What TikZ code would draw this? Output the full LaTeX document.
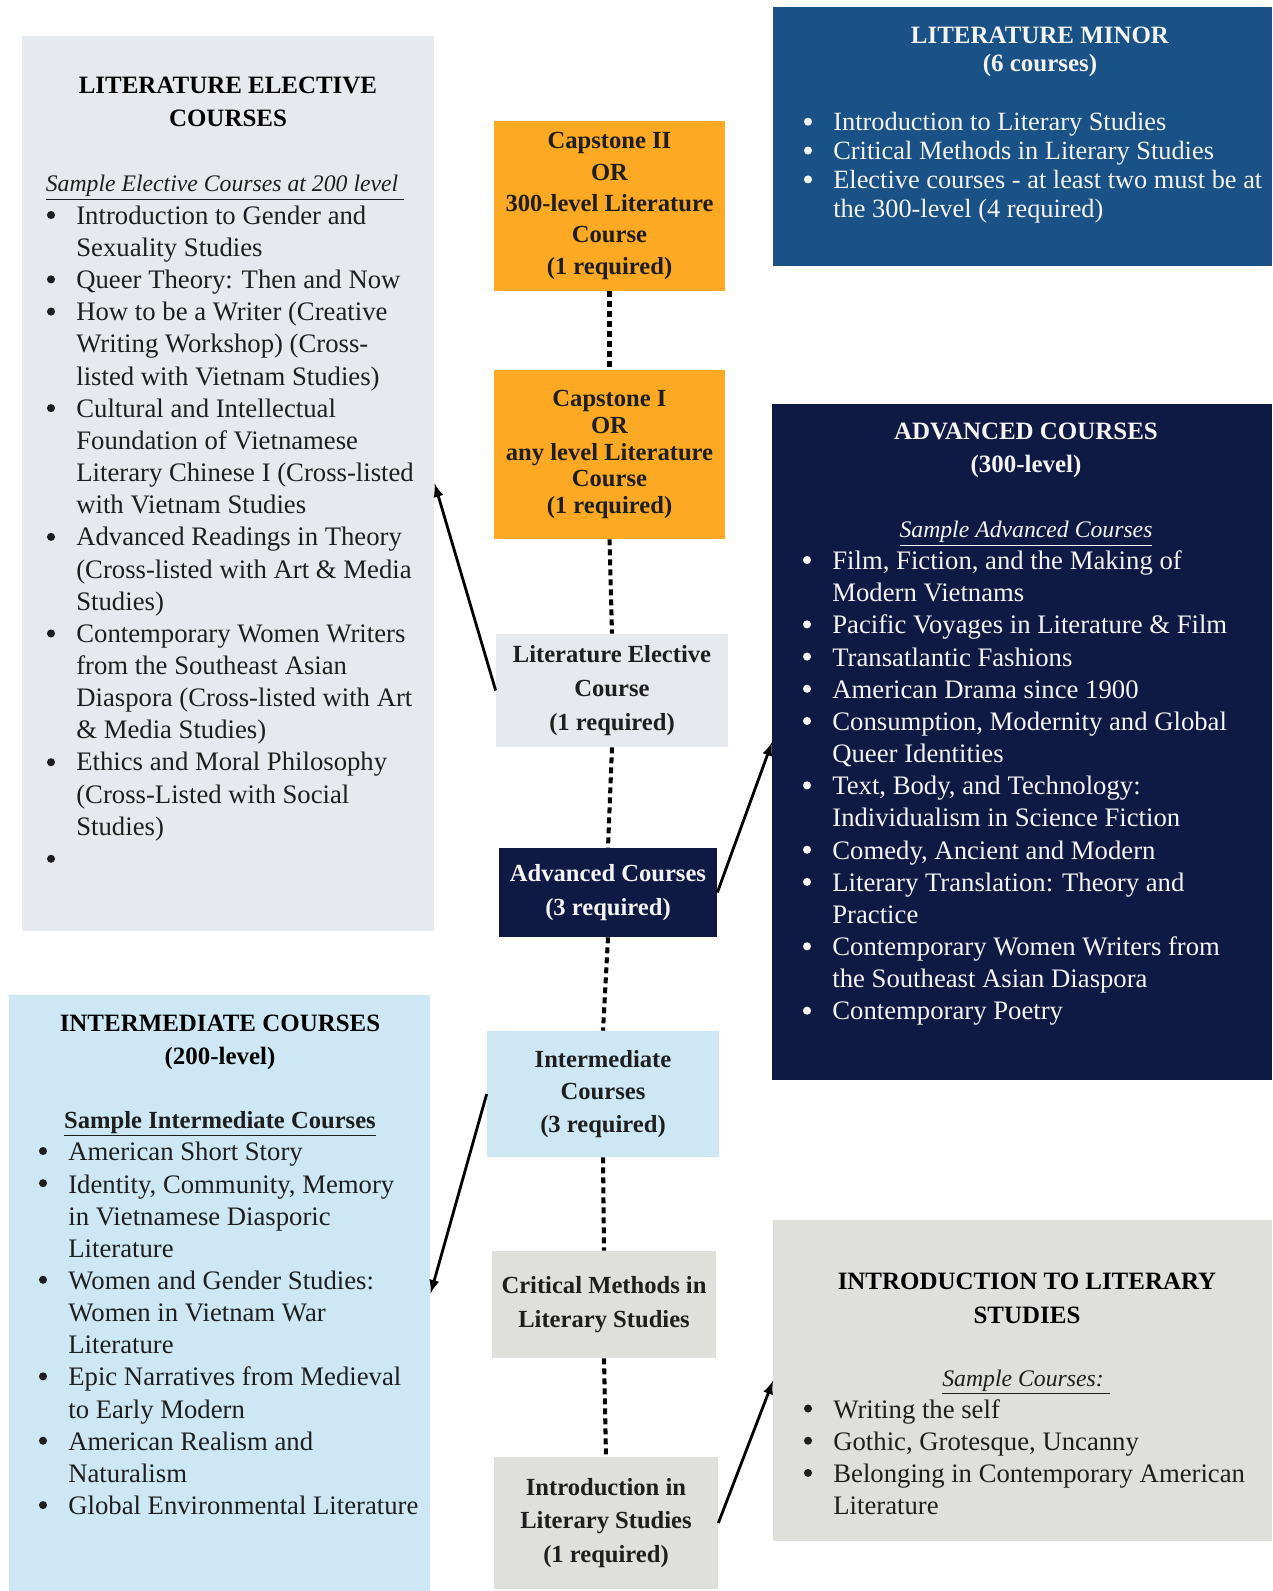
\documentclass[tikz,border=0pt]{standalone}
\usepackage{fontspec}
\setmainfont{Liberation Serif}
\usetikzlibrary{positioning}

\definecolor{elecgrey}{HTML}{E6EAEE}
\definecolor{minorblue}{HTML}{1A5186}
\definecolor{caporange}{HTML}{FDA923}
\definecolor{advnavy}{HTML}{0E1A44}
\definecolor{interblue}{HTML}{CDE8F4}
\definecolor{introgrey}{HTML}{DFE0DC}
\definecolor{ink}{HTML}{1E1E1E}
\definecolor{paper}{HTML}{F4F4F4}

\tikzset{
  panel/.style={inner sep=0pt, anchor=north west},
  stage/.style={inner sep=0pt, align=center, text=ink, font=\bfseries\fontsize{14}{#1}\selectfont},
  stage/.default=19.3pt,
  heading/.style={inner sep=0pt, anchor=north, align=center, font=\bfseries\fontsize{14.2}{#1}\selectfont},
  heading/.default=18.7pt,
  sample/.style={inner sep=0pt, anchor=base, font=\itshape\fontsize{13.5}{16}\selectfont},
  courses/.style={inner sep=0pt, anchor=north west, align=left, font=\fontsize{15.2}{#1}\selectfont},
  courses/.default=18.3pt,
  dots/.style={line width=2.3pt, dash pattern=on 3.4pt off 2.3pt},
  arr/.style={-latex, line width=1.6pt}
}

\begin{document}
\begin{tikzpicture}[x=0.02cm, y=-0.02cm]
\fill[white] (0,0) rectangle (1272,1591);
\useasboundingbox (0,0) rectangle (1272,1591);

% big panels
\node[panel, fill=elecgrey, minimum width=8.24cm, minimum height=17.91cm] (elecbox) at (22,35.5) {};
\node[panel, fill=minorblue, minimum width=9.98cm, minimum height=5.18cm] (minorbox) at (773,7) {};
\node[panel, fill=advnavy, minimum width=10cm, minimum height=13.52cm] (advbox) at (772,404) {};
\node[panel, fill=interblue, minimum width=8.42cm, minimum height=11.92cm] (interbox) at (9,995) {};
\node[panel, fill=introgrey, minimum width=9.98cm, minimum height=6.42cm] (introbox) at (773,1220) {};

% the steps in the middle
\node[stage=17.9pt, fill=caporange, minimum width=4.62cm, minimum height=3.4cm] (cap2) at (609.5,206)
  {Capstone II\\OR\\300-level Literature\\Course\\(1 required)};
\node[stage=15.1pt, fill=caporange, minimum width=4.62cm, minimum height=3.38cm] (cap1) at (609.5,454.5)
  {Capstone I\\OR\\any level Literature\\Course\\(1 required)};
\node[stage, fill=elecgrey, minimum width=4.64cm, minimum height=2.26cm] (elec) at (612,690.5)
  {Literature Elective\\Course\\(1 required)};
\node[stage=19.6pt, fill=advnavy, text=paper, minimum width=4.36cm, minimum height=1.78cm] (adv) at (608,892.5)
  {Advanced Courses\\(3 required)};
\node[stage=18.4pt, fill=interblue, minimum width=4.64cm, minimum height=2.52cm] (inter) at (603,1094)
  {Intermediate\\Courses\\(3 required)};
\node[stage, fill=introgrey, minimum width=4.48cm, minimum height=2.14cm] (crit) at (604,1304.5)
  {Critical Methods in\\Literary Studies};
\node[stage, fill=introgrey, minimum width=4.48cm, minimum height=2.64cm] (intro) at (606,1523)
  {Introduction in\\Literary Studies\\(1 required)};

% dotted path
\draw[dots] (cap2.south) -- (cap1.north);
\draw[dots] (cap1.south) -- (elec.north);
\draw[dots] (elec.south) -- (adv.north);
\draw[dots] (adv.south) -- (inter.north);
\draw[dots] (inter.south) -- (crit.north);
\draw[dots] (crit.south) -- (intro.north);

% arrows to the panels
\draw[arr] (elec.west) -- (elecbox.east);
\draw[arr] (adv.east) -- (advbox.west);
\draw[arr] (inter.west) -- (interbox.east);
\draw[arr] (intro.east) -- (introbox.west);

% literature elective courses
\node[heading, text=black] (electitle) at (228,77) {LITERATURE ELECTIVE\\COURSES};
\node[sample, text=ink] (elecsample) at (225,192) {\underline{Sample Elective Courses at 200 level~}};
\node[courses, text=ink] (eleclist) at (76,205.5) {%
Introduction to Gender and\\
Sexuality Studies\\
Queer Theory: Then and Now\\
How to be a Writer (Creative\\
Writing Workshop) (Cross-\\
listed with Vietnam Studies)\\
Cultural and Intellectual\\
Foundation of Vietnamese\\
Literary Chinese I (Cross-listed\\
with Vietnam Studies\\
Advanced Readings in Theory\\
(Cross-listed with Art \& Media\\
Studies)\\
Contemporary Women Writers\\
from the Southeast Asian\\
Diaspora (Cross-listed with Art\\
\& Media Studies)\\
Ethics and Moral Philosophy\\
(Cross-Listed with Social\\
Studies)};
% bullets, by line number
\foreach \k in {0,2,3,6,10,13,17,20}
  \fill[ink] (51,215+32.19*\k) circle (2.3pt);

% literature minor
\node[heading=16.2pt, text=paper] (minortitle) at (1040,26.5) {LITERATURE MINOR\\(6 courses)};
\node[courses=16.4pt, font=\fontsize{15}{16.4}\selectfont, text=paper] (minorlist) at (833,112) {%
Introduction to Literary Studies\\
Critical Methods in Literary Studies\\
Elective courses - at least two must be at\\
the 300-level (4 required)};
\foreach \k in {0,1,2}
  \fill[paper] (808,121.7+28.86*\k) circle (2.3pt);

% advanced courses
\node[heading, text=paper] (advtitle) at (1026,423) {ADVANCED COURSES\\(300-level)};
\node[sample, text=paper] (advsample) at (1026,537.5) {\underline{Sample Advanced Courses}};
\node[courses, text=paper] (advlist) at (832,550.5) {%
Film, Fiction, and the Making of\\
Modern Vietnams\\
Pacific Voyages in Literature \& Film\\
Transatlantic Fashions\\
American Drama since 1900\\
Consumption, Modernity and Global\\
Queer Identities\\
Text, Body, and Technology:\\
Individualism in Science Fiction\\
Comedy, Ancient and Modern\\
Literary Translation: Theory and\\
Practice\\
Contemporary Women Writers from\\
the Southeast Asian Diaspora\\
Contemporary Poetry};
\foreach \k in {0,2,3,4,5,7,9,10,12,14}
  \fill[paper] (807,560+32.19*\k) circle (2.3pt);

% intermediate courses
\node[heading, text=black] (intertitle) at (220,1014.5) {INTERMEDIATE COURSES\\(200-level)};
\node[sample, font=\bfseries\fontsize{14}{17}\selectfont, text=ink] (intersample) at (220,1128) {\underline{Sample Intermediate Courses}};
\node[courses, text=ink] (interlist) at (68,1142) {%
American Short Story\\
Identity, Community, Memory\\
in Vietnamese Diasporic\\
Literature\\
Women and Gender Studies:\\
Women in Vietnam War\\
Literature\\
Epic Narratives from Medieval\\
to Early Modern\\
American Realism and\\
Naturalism\\
Global Environmental Literature};
\foreach \k in {0,1,4,7,9,11}
  \fill[ink] (43,1151+32.19*\k) circle (2.3pt);

% introduction to literary studies
\node[heading=18.9pt, text=black] (introtitle) at (1027,1273) {INTRODUCTION TO LITERARY\\STUDIES};
\node[sample, text=ink] (introsample) at (1026,1386) {\underline{Sample Courses:~}};
\node[courses, text=ink] (introlist) at (833,1399) {%
Writing the self\\
Gothic, Grotesque, Uncanny\\
Belonging in Contemporary American\\
Literature};
\foreach \k in {0,1,2}
  \fill[ink] (808,1408.5+32.19*\k) circle (2.3pt);

\end{tikzpicture}
\end{document}
